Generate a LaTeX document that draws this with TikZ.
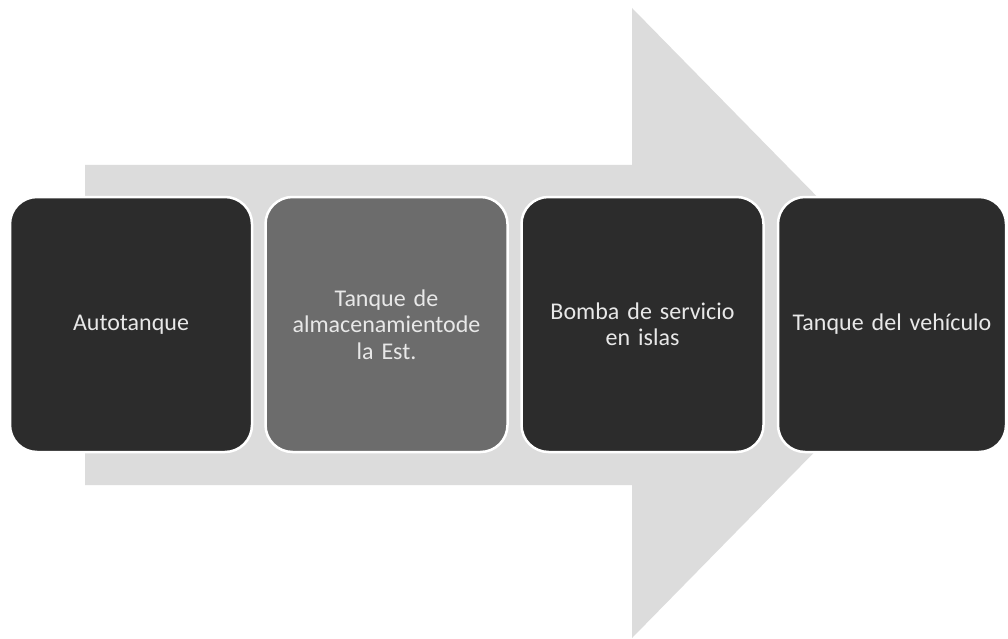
\documentclass[tikz,border=0pt]{standalone}
\usepackage{fontspec}
\setmainfont{Carlito}
\definecolor{arrowgray}{HTML}{DCDCDC}
\definecolor{boxdark}{HTML}{2C2C2C}
\definecolor{boxmid}{HTML}{6C6C6C}
\definecolor{txt}{HTML}{E8E8E8}
\tikzset{
  stagebox/.style={rectangle, rounded corners=27pt, draw=white, line width=2.5pt,
    minimum width=242pt, minimum height=255pt, inner sep=0pt,
    text=txt, align=center, text width=235pt,
    font=\fontsize{24pt}{26.5pt}\selectfont}
}
\begin{document}
\begin{tikzpicture}[x=1pt,y=-1pt]
\useasboundingbox (0,0) rectangle (1008,639);
\fill[white] (0,0) rectangle (1008,639);
% big background arrow
\fill[arrowgray] (85,165) -- (632,165) -- (632,8) -- (941,323) -- (632,638) -- (632,485) -- (85,485) -- cycle;
% stage boxes
\node[stagebox, fill=boxdark] (a) at (131,324.5) {Autotanque};
\node[stagebox, fill=boxmid] (b) at (386.5,324.5) {Tanque de\\almacenamientode\\la Est.};
\node[stagebox, fill=boxdark] (c) at (642.5,324.5) {Bomba de servicio\\en islas};
\node[stagebox, fill=boxdark, minimum width=228pt, text width=222pt] (d) at (892,324.5) {Tanque del vehículo};
\end{tikzpicture}
\end{document}
